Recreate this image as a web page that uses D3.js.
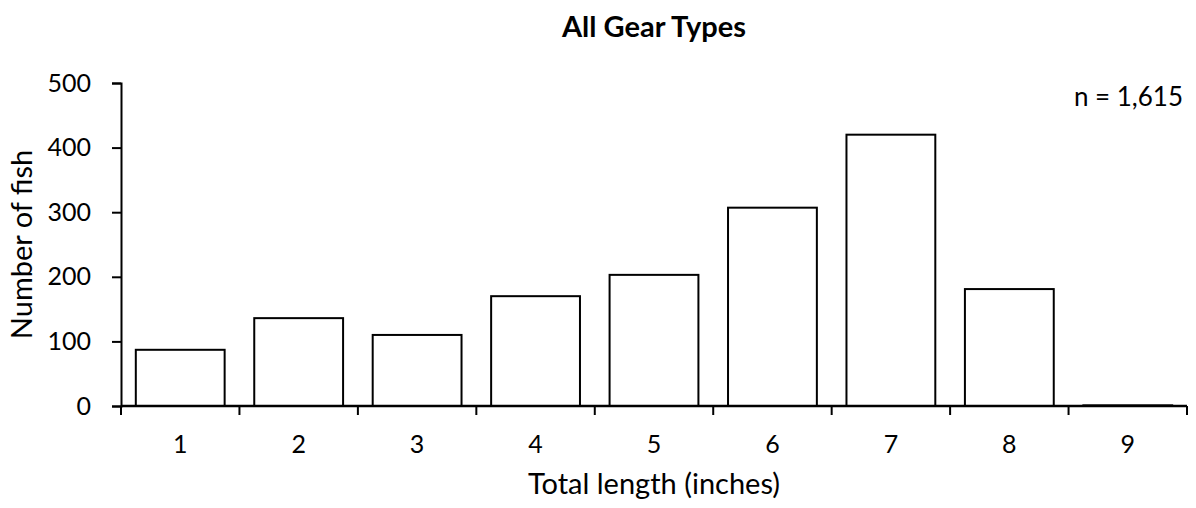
<!DOCTYPE html>
<html>
<head>
<meta charset="utf-8"/>
<script src="https://d3js.org/d3.v7.min.js"></script>
<style>
  body { margin: 0; background: #fff; }
  text { font-family: Lato, "Open Sans", sans-serif; fill: #000; }
</style>
</head>
<body>
<div id="chart"></div>
<script>
    var categories = ["1", "2", "3", "4", "5", "6", "7", "8", "9"];
    var counts = [87, 136, 110, 170, 203, 307, 420, 181, 1];
    var yTicks = [0, 100, 200, 300, 400, 500];
    var title = "All Gear Types";
    var note = "n = 1,615";

    var W = 1196, H = 508;
    var margin = {top: 83, right: 9, bottom: 102, left: 121},
        width = W - margin.left - margin.right,
        height = H - margin.top - margin.bottom;

    var svg = d3.select("#chart").append("svg")
        .attr("width", W).attr("height", H);

    var g = svg.append("g")
        .attr("transform", "translate(" + margin.left + "," + margin.top + ")");

    var x = d3.scaleBand()
        .domain(categories)
        .range([0, width])
        .paddingInner(0.25)
        .paddingOuter(0.125);

    var y = d3.scaleLinear()
        .domain([0, 500])
        .range([height, 0]);

    // bars
    g.selectAll("rect.bar")
        .data(counts)
        .enter()
        .append("rect")
        .attr("class", "bar")
        .attr("x", function(d, i) { return x(categories[i]); })
        .attr("y", function(d) { return y(d); })
        .attr("width", x.bandwidth())
        .attr("height", function(d) { return height - y(d); })
        .attr("fill", "#fff")
        .attr("stroke", "#000")
        .attr("stroke-width", 2);

    // y axis
    var yAxis = g.append("g")
        .call(d3.axisLeft(y).tickValues(yTicks).tickSize(9).tickPadding(21));
    yAxis.select(".domain").attr("stroke-width", 2);
    yAxis.selectAll(".tick line").attr("stroke-width", 2);
    yAxis.attr("font-family", null).attr("font-size", null);
    yAxis.selectAll("text").style("font-size", "25px");

    // x axis: ticks at category boundaries, labels at centers
    var xAxis = g.append("g").attr("transform", "translate(0," + height + ")");
    xAxis.append("line")
        .attr("x1", 0).attr("x2", width)
        .attr("stroke", "#000").attr("stroke-width", 2.5);
    var step = x.step();
    var bounds = d3.range(categories.length + 1).map(function(i) { return x(categories[0]) - step * x.paddingOuter() + i * step; });
    xAxis.selectAll("line.tk")
        .data(bounds)
        .enter().append("line")
        .attr("class", "tk")
        .attr("x1", function(d) { return d; }).attr("x2", function(d) { return d; })
        .attr("y1", 0).attr("y2", 9)
        .attr("stroke", "#000").attr("stroke-width", 2);
    xAxis.selectAll("text.lbl")
        .data(categories)
        .enter().append("text")
        .attr("class", "lbl")
        .attr("x", function(d) { return x(d) + x.bandwidth() / 2; })
        .attr("y", 47)
        .attr("text-anchor", "middle")
        .style("font-size", "25px")
        .text(function(d) { return d; });

    // title
    svg.append("text")
        .attr("x", margin.left + width / 2)
        .attr("y", 37)
        .attr("text-anchor", "middle")
        .style("font-size", "29px")
        .style("font-weight", "bold")
        .text(title);

    // n label
    svg.append("text")
        .attr("x", 1183)
        .attr("y", 106)
        .attr("text-anchor", "end")
        .style("font-size", "26px")
        .text(note);

    // axis titles
    svg.append("text")
        .attr("x", margin.left + width / 2)
        .attr("y", 494)
        .attr("text-anchor", "middle")
        .style("font-size", "29px")
        .text("Total length (inches)");

    svg.append("text")
        .attr("transform", "translate(32," + (margin.top + height / 2) + ")rotate(-90)")
        .attr("text-anchor", "middle")
        .style("font-size", "29px")
        .text("Number of fish");
</script>
</body>
</html>
